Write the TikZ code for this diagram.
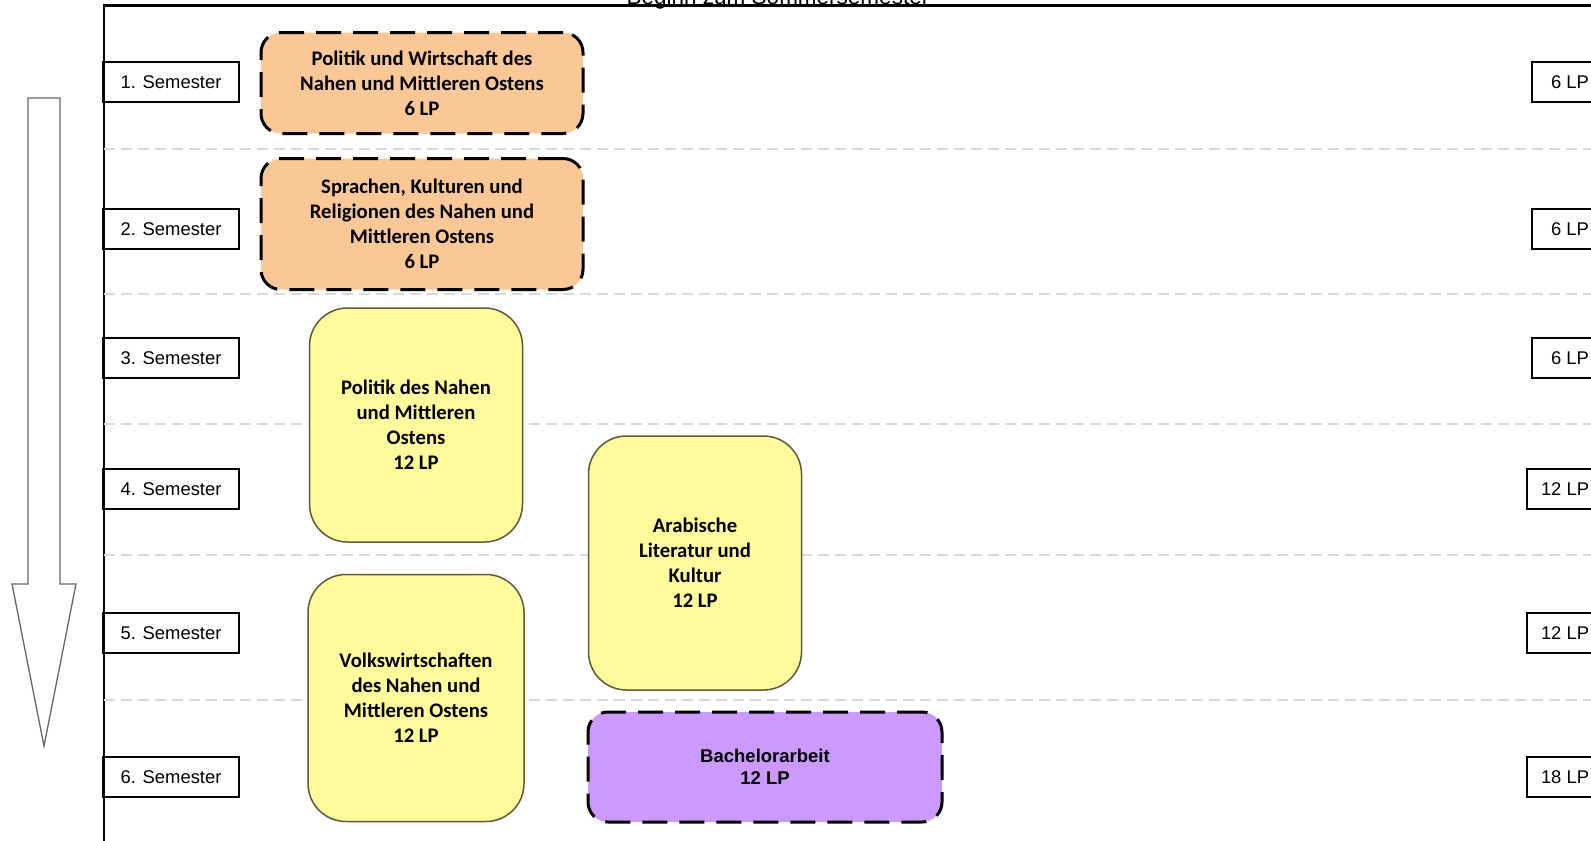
\documentclass[tikz,border=0pt]{standalone}
\usepackage{fontspec}
\setmainfont{Liberation Sans}
\newfontfamily\calibri{Carlito}
\definecolor{pflicht}{HTML}{FAC796}
\definecolor{wahl}{HTML}{FFFB9C}
\definecolor{bachelor}{HTML}{CC99FF}
\definecolor{wahlrand}{HTML}{5C5A3A}
\definecolor{trenner}{HTML}{D9D9D9}
\begin{document}
\begin{tikzpicture}[x=1pt,y=-1pt,
  semester/.style={draw,line width=2pt,minimum width=136pt,minimum height=40pt,inner sep=0pt,font=\fontsize{18.4}{22}\selectfont},
  lp/.style={draw,line width=2pt,anchor=west,minimum height=40pt,inner ysep=0pt,inner xsep=19pt,font=\fontsize{18.4}{22}\selectfont},
  pflichtmodul/.style={draw,fill=pflicht,line width=3pt,dash pattern=on 25pt off 12pt,rounded corners=20pt,align=center,inner sep=0pt,font=\calibri\bfseries\fontsize{20.7}{24.9}\selectfont},
  wahlmodul/.style={draw=wahlrand,fill=wahl,line width=1.5pt,rounded corners=38pt,align=center,inner sep=0pt,font=\calibri\bfseries\fontsize{20.7}{24.9}\selectfont},
  arbeit/.style={draw,fill=bachelor,line width=3pt,dash pattern=on 25pt off 12pt,rounded corners=20pt,align=center,inner sep=0pt,font=\bfseries\fontsize{18.5}{22}\selectfont},
  trennlinie/.style={trenner,line width=1.5pt,dash pattern=on 11pt off 6pt}]
  \useasboundingbox (0,0) rectangle (1591,841);
  % Rahmen und Titel
  \draw[line width=2.7pt] (104,5.5) rectangle (1630,870);
  \node[anchor=base,font=\fontsize{22.5}{26}\selectfont] (titel) at (778,4) {Beginn zum Sommersemester};
  % Trennlinien zwischen den Semestern
  \draw[trennlinie] (104,149) -- (1591,149);
  \draw[trennlinie] (104,294) -- (1591,294);
  \draw[trennlinie] (104,424) -- (1591,424);
  \draw[trennlinie] (104,555) -- (1591,555);
  \draw[trennlinie] (104,700) -- (1591,700);
  % Zeitpfeil
  \draw[draw=black!60,line width=1.3pt,fill=white] (28,98) -- (60,98) -- (60,584) -- (76,584)
    -- (44,746) -- (12,584) -- (28,584) -- cycle;
  % Semester
  \node[semester] (s1) at (171,82) {1. Semester};
  \node[semester] (s2) at (171,229) {2. Semester};
  \node[semester] (s3) at (171,358) {3. Semester};
  \node[semester] (s4) at (171,489) {4. Semester};
  \node[semester] (s5) at (171,633) {5. Semester};
  \node[semester] (s6) at (171,777) {6. Semester};
  % Leistungspunkte
  \node[lp] (lp1) at (1531,82) {6 LP};
  \node[lp] (lp2) at (1531,229) {6 LP};
  \node[lp] (lp3) at (1531,358) {6 LP};
  \node[lp,inner xsep=14pt] (lp4) at (1526,489) {12 LP};
  \node[lp,inner xsep=14pt] (lp5) at (1526,633) {12 LP};
  \node[lp,inner xsep=14pt] (lp6) at (1526,777) {18 LP};
  % Module
  \node[pflichtmodul,minimum width=322pt,minimum height=101pt] (pw) at (422,83)
    {Politik und Wirtschaft des\\Nahen und Mittleren Ostens\\6 LP};
  \node[pflichtmodul,minimum width=322pt,minimum height=131pt] (skr) at (422,224)
    {Sprachen, Kulturen und\\Religionen des Nahen und\\Mittleren Ostens\\6 LP};
  \node[wahlmodul,minimum width=213pt,minimum height=234pt] (pol) at (416,425)
    {Politik des Nahen\\und Mittleren\\Ostens\\12 LP};
  \node[wahlmodul,minimum width=213pt,minimum height=254pt] (alk) at (695,563)
    {Arabische\\Literatur und\\Kultur\\12 LP};
  \node[wahlmodul,minimum width=216pt,minimum height=247pt] (vw) at (416,698)
    {Volkswirtschaften\\des Nahen und\\Mittleren Ostens\\12 LP};
  \node[arbeit,minimum width=354pt,minimum height=110pt] (ba) at (765,767)
    {Bachelorarbeit\\12 LP};
\end{tikzpicture}
\end{document}
